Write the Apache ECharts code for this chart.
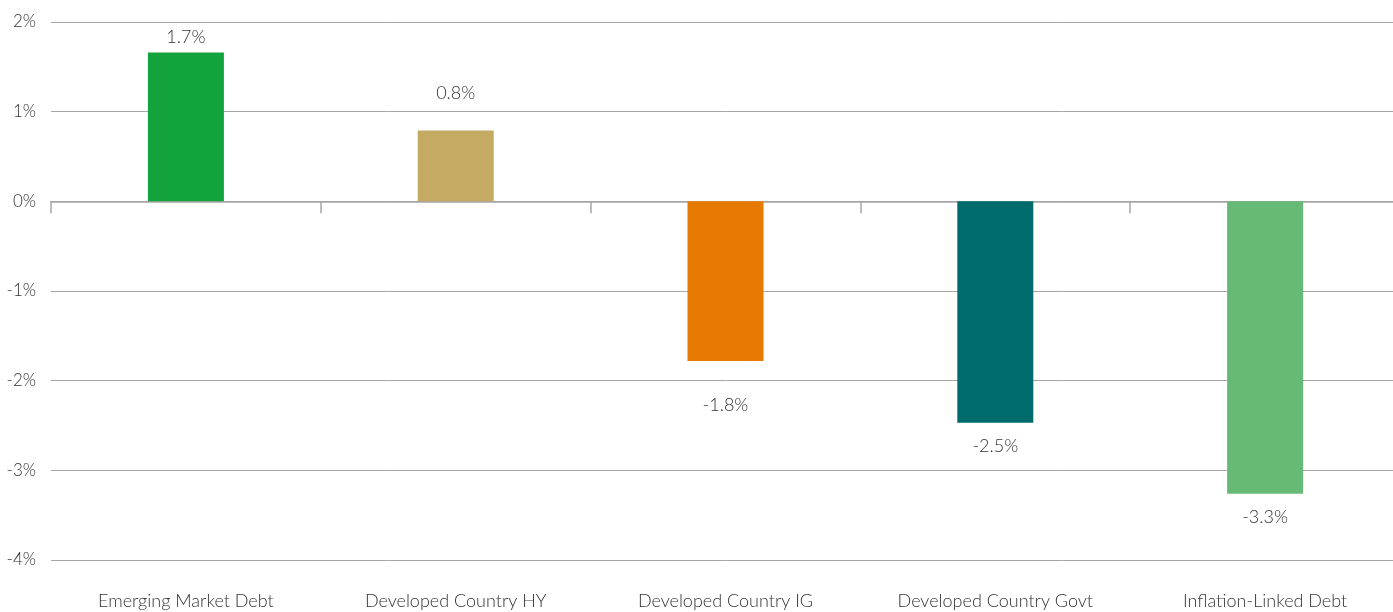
<!DOCTYPE html>
<html>
<head>
<meta charset="utf-8">
<script src="https://cdn.jsdelivr.net/npm/echarts@6/dist/echarts.min.js"></script>
<style>
  html, body { margin: 0; padding: 0; background: #fff; overflow: hidden; }
  #chart { width: 1400px; height: 612px; }
</style>
</head>
<body>
<div id="chart"></div>
<script>
// Returns by fixed income segment (%)
const categories = ['Emerging Market Debt', 'Developed Country HY', 'Developed Country IG', 'Developed Country Govt', 'Inflation-Linked Debt'];
const returns = [1.66, 0.79, -1.78, -2.47, -3.26];
const barColors = ['#12A33D', '#C4AA62', '#E67A02', '#006B6D', '#66BA75'];
// Distance (px) between each bar end and its value label
const labelGap = [6, 28, 35, 14, 15];

const textColor = '#333333';
const fontFamily = 'Lato, "Open Sans", sans-serif';

const chart = echarts.init(document.getElementById('chart'));

const seriesData = returns.map((v, i) => ({
  value: v,
  itemStyle: { color: barColors[i] },
  label: { position: v >= 0 ? 'top' : 'bottom', distance: labelGap[i] }
}));

chart.setOption({
  animation: false,
  grid: { left: 51, right: 0, top: 22, bottom: 52 },
  xAxis: [
    {
      type: 'category',
      data: categories,
      position: 'bottom',
      axisLine: { show: false, onZero: false },
      axisTick: { show: false },
      axisLabel: { margin: 32, color: textColor, fontSize: 18, fontFamily: fontFamily, fontWeight: 300 }
    },
    {
      type: 'category',
      data: categories,
      position: 'bottom',
      axisLine: { show: true, onZero: true, lineStyle: { color: '#a6a6a6', width: 1.5 } },
      axisTick: { show: true, length: 12, lineStyle: { color: '#a6a6a6', width: 1.5 } },
      axisLabel: { show: false }
    }
  ],
  yAxis: {
    type: 'value',
    min: -4,
    max: 2,
    interval: 1,
    axisLine: { show: false },
    axisTick: { show: false },
    splitLine: { lineStyle: { color: '#a6a6a6', width: 1 } },
    axisLabel: {
      margin: 15,
      color: textColor,
      fontSize: 17,
      fontFamily: fontFamily,
      fontWeight: 300,
      formatter: v => v + '%'
    }
  },
  series: [{
    type: 'bar',
    xAxisIndex: 0,
    data: seriesData,
    barWidth: 76,
    label: {
      show: true,
      color: textColor,
      fontSize: 18,
      fontFamily: fontFamily,
      fontWeight: 300,
      formatter: p => p.value.toFixed(1) + '%'
    }
  }]
});
</script>
</body>
</html>
